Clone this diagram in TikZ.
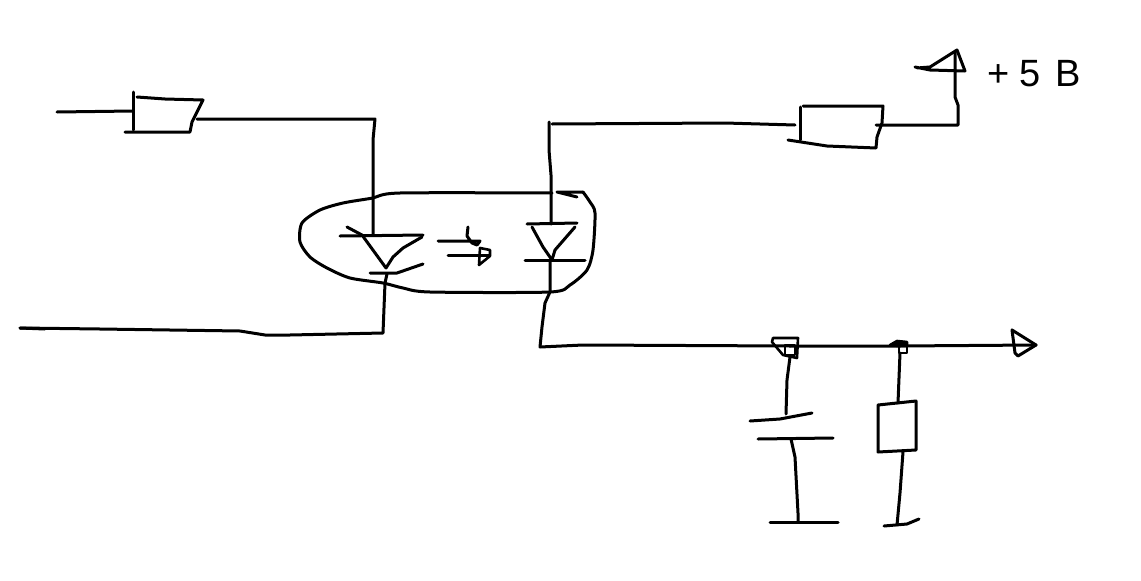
\documentclass[tikz,border=0pt]{standalone}
\usepackage{fontspec}
\setmainfont{Liberation Sans}
\tikzset{
  wire/.style={line width=3pt,black,line join=round,line cap=round},
  thin wire/.style={wire,line width=2.6pt},
  label text/.style={font=\fontsize{38}{38}\selectfont,inner sep=0pt,anchor=center}
}
\begin{document}
\begin{tikzpicture}[x=1pt,y=-1pt]
\useasboundingbox (0,0) rectangle (1141,581);
\fill[white] (0,0) rectangle (1141,581);

% named junctions
\coordinate (r1out) at (197,119);
\coordinate (d1top) at (373,234);
\coordinate (d1bot) at (387,274);
\coordinate (d2top) at (551,224);
\coordinate (d2bot) at (550,260);
\coordinate (r2in) at (800,124);
\coordinate (r2out) at (876,125);
\coordinate (j1) at (790,346);
\coordinate (j2) at (900,346);
\coordinate (capt) at (786,414);
\coordinate (capb) at (791,439);
\coordinate (r3t) at (898,403);
\coordinate (r3b) at (903,452);
\coordinate (outtip) at (1036,345);
\coordinate (vcc) at (955,52);

% optocoupler outline
\draw[wire] plot[smooth,tension=0.45] coordinates {(552,193) (400,193) (373,198) (343,203) (320,210)
  (302,223) (300,242) (310,257) (327,268) (350,278) (383,283) (403,288) (430,292) (550,292)
  (570,285) (587,270) (593,250) (595,213) (590,202) (583,192)};
\draw[wire] (583,192) -- (557,192) -- (577,197);

% left resistor
\draw[wire] (57,112) -- (133,111);
\draw[wire] (133,92) -- (133,130);
\draw[wire] (125,132) -- (190,132) -- (192,122) -- (203,100) -- (165,99) -- (137,97);
% input wires
\draw[wire] (r1out) -- (375,119) -- (373,140) -- (d1top);
\draw[wire] (d1bot) -- (385,283) -- (383,333) -- (290,335) -- (265,335) -- (240,331) -- (100,329) -- (20,328);
\draw[wire] (20,328) -- (45,329);

% left diode
\draw[wire] (340,236) -- (423,235);
\draw[wire] (347,227) -- (362,235) -- (386,268) -- (393,257) -- (403,248) -- (422,237);
\draw[wire] (370,273) -- (397,273) -- (423,264);

% light arrows
\draw[wire] (438,241) -- (480,241) -- (477,245) -- (472,243) -- (467,236) -- (468,227);
\draw[wire] (448,255) -- (489,255);
\draw[thin wire] (480,248) -- (490,250) -- (490,256) -- (479,265) -- cycle;

% right diode
\draw[wire] (527,224) -- (577,223);
\draw[wire] (532,227) -- (543,247) -- (552,260) -- (555,250) -- (575,227);
\draw[wire] (525,260) -- (585,260);
\draw[wire] (549,122) -- (549,150) -- (551,175) -- (d2top);
\draw[wire] (d2bot) -- (550,292) -- (545,303) -- (542,327) -- (540,347) -- (583,345) -- (j1);

% top wire + right resistor
\draw[wire] (552,124) -- (725,123) -- (795,125);
\draw[wire] (800,107) -- (800,140);
\draw[wire] (803,106) -- (883,106) -- (882,123) -- (877,137) -- (876,148) -- (827,146) -- (788,140);
\draw[wire] (r2out) -- (958,125) -- (958,105) -- (955,97) -- (vcc);

% supply symbol
\draw[wire] (915,67) -- (930,70) -- (965,71) -- (957,50) -- (930,67) -- (917,68);
\node[label text] (supply) at (1034,74) {+\kern10pt5\kern15ptВ};

% output rail
\draw[wire] (j1) -- (j2) -- (outtip);
\draw[wire] (1012,330) -- (1015,353) -- (1018,356) -- (outtip) -- (1020,335) -- cycle;

% junction 1
\draw[thin wire] (773,338) -- (798,338) -- (797,358) -- (783,355) -- (772,342) -- cycle;
\draw[thin wire] (785,345) -- (795,345) -- (795,355) -- (785,355) -- cycle;
% capacitor branch
\draw[wire] (790,357) -- (787,380) -- (capt);
\draw[wire] (750,421) -- (780,419) -- (812,413);
\draw[wire] (758,439) -- (833,438);
\draw[wire] (capb) -- (795,457) -- (798,513) -- (798,522);
\draw[wire] (770,522) -- (838,522);

% junction 2
\draw[thin wire,fill=black] (890,345) -- (897,341) -- (907,342) -- (907,346) -- (899,346) -- cycle;
\draw[thin wire] (899,343) -- (907,343) -- (907,353) -- (899,353) -- cycle;
% resistor branch
\draw[wire] (900,353) -- (r3t);
\draw[wire] (878,405) -- (916,401) -- (916,450) -- (878,452) -- cycle;
\draw[wire] (r3b) -- (900,493) -- (897,525);
\draw[wire] (884,526) -- (907,524) -- (919,519);
\end{tikzpicture}
\end{document}
